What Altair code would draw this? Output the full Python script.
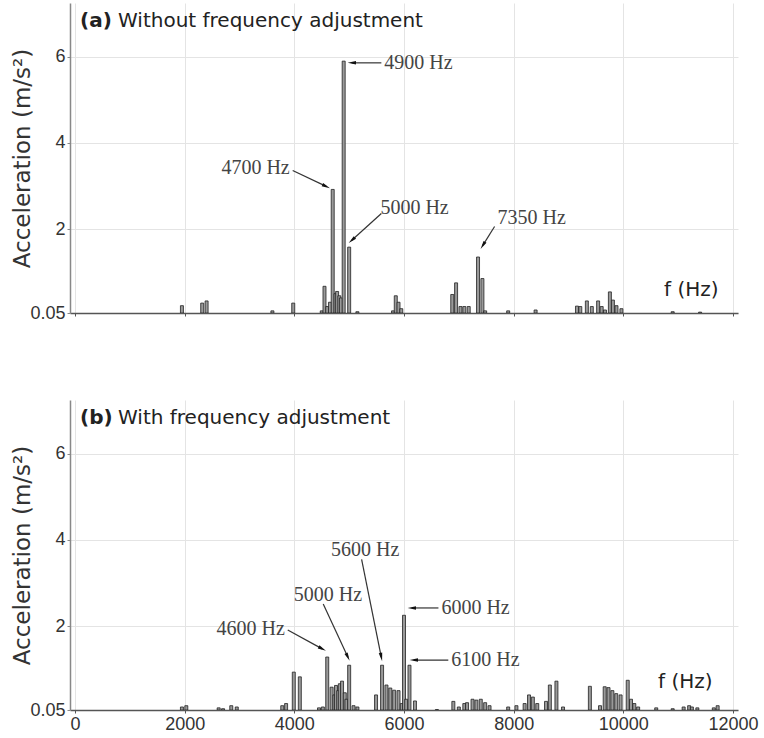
import math
import altair as alt
import pandas as pd

# ---------------------------------------------------------------------------
# Spectrum (a): without frequency adjustment  (frequency in Hz, amplitude in m/s^2)
freq_a = [1950, 2320, 2400, 3600, 3980, 4500, 4550, 4600, 4650, 4700, 4750, 4780,
          4820, 4850, 4900, 5000, 5150, 5800, 5850, 5900, 5950, 6880, 6950, 7030,
          7100, 7180, 7350, 7430, 7480, 7900, 8400, 9155, 9215, 9335, 9425, 9540,
          9605, 9665, 9755, 9810, 9875, 9965, 10900, 11400]
amp_a = [0.22, 0.28, 0.33, 0.10, 0.28, 0.10, 0.67, 0.20, 0.30, 2.92, 0.50, 0.55,
         0.45, 0.40, 5.90, 1.58, 0.08, 0.10, 0.45, 0.30, 0.15, 0.48, 0.75, 0.20,
         0.20, 0.20, 1.35, 0.85, 0.10, 0.10, 0.12, 0.21, 0.20, 0.33, 0.20, 0.33,
         0.20, 0.12, 0.54, 0.35, 0.22, 0.15, 0.08, 0.07]

# Spectrum (b): with frequency adjustment
freq_b = [1950, 2030, 2620, 2700, 2850, 2950, 3780, 3850, 3990, 4100, 4450, 4520,
          4600, 4680, 4730, 4760, 4800, 4830, 4870, 4920, 4950, 5000, 5080, 5150,
          5490, 5600, 5680, 5750, 5820, 5900, 5960, 6000, 6040, 6100, 6200, 6600,
          6900, 7000, 7100, 7150, 7250, 7320, 7400, 7480, 7560, 7900, 8050, 8200,
          8280, 8350, 8430, 8590, 8660, 8780, 8900, 9390, 9575, 9660, 9730, 9800,
          9870, 9950, 10080, 10140, 10200, 10270, 10600, 10900, 11100, 11200, 11250,
          11350, 11650, 11720]
amp_b = [0.12, 0.15, 0.10, 0.08, 0.15, 0.12, 0.15, 0.20, 0.93, 0.82, 0.10, 0.12,
         1.28, 0.58, 0.40, 0.62, 0.50, 0.66, 0.72, 0.45, 0.30, 1.09, 0.15, 0.12,
         0.40, 1.09, 0.63, 0.56, 0.51, 0.50, 0.20, 2.25, 0.30, 1.09, 0.26, 0.06,
         0.25, 0.12, 0.20, 0.22, 0.30, 0.28, 0.30, 0.22, 0.15, 0.12, 0.15, 0.20,
         0.40, 0.35, 0.20, 0.25, 0.63, 0.72, 0.12, 0.60, 0.15, 0.59, 0.57, 0.50,
         0.43, 0.40, 0.74, 0.30, 0.20, 0.12, 0.10, 0.08, 0.12, 0.15, 0.12,
         0.10, 0.10, 0.15]

# Peak call-outs: label, text anchor, alignment, arrow tail (x0, y0) and head (x1, y1)
ann_a_label = ["4900 Hz", "4700 Hz", "5000 Hz", "7350 Hz"]
ann_a_tx = [5622, 3934, 5551, 7688]
ann_a_ty = [5.86, 3.41, 2.48, 2.25]
ann_a_align = ["left", "right", "left", "left"]
ann_a_x0 = [5587, 3970, 5587, 7652]
ann_a_y0 = [5.86, 3.36, 2.36, 2.06]
ann_a_x1 = [5048, 4581, 5048, 7437]
ann_a_y1 = [5.86, 2.99, 1.74, 1.62]

ann_b_label = ["4600 Hz", "5000 Hz", "5600 Hz", "6000 Hz", "6100 Hz"]
ann_b_tx = [3844, 3970, 4652, 6664, 6844]
ann_b_ty = [1.93, 2.72, 3.76, 2.42, 1.21]
ann_b_align = ["right", "left", "left", "left", "left"]
ann_b_x0 = [3880, 4527, 5227, 6628, 6808]
ann_b_y0 = [1.91, 2.51, 3.55, 2.42, 1.21]
ann_b_x1 = [4509, 4976, 5586, 6143, 6179]
ann_b_y1 = [1.47, 1.28, 1.28, 2.42, 1.21]

x_ticks = [0, 2000, 4000, 6000, 8000, 10000, 12000]
y_ticks = [0.05, 2, 4, 6]
Y_MIN, Y_MAX = 0.05, 7.25
X_MAX = 12000

W, H = 668, 310
SANS = "DejaVu Sans"
NUM = "Liberation Sans"
SERIF = "Liberation Serif"
ARROW = "M0,-1L0.42,1L-0.42,1Z"


def callouts(label, tx, ty, align, x0, y0, x1, y1):
    px_hz = W / X_MAX
    px_unit = H / (Y_MAX - Y_MIN)
    ang = []
    for a, b, c, d in zip(x0, y0, x1, y1):
        dx = (c - a) * px_hz
        dy = -(d - b) * px_unit
        ang.append(math.degrees(math.atan2(dx, -dy)) % 360)
    return pd.DataFrame({"label": label, "tx": tx, "ty": ty, "align": align,
                         "x0": x0, "y0": y0, "x1": x1, "y1": y1, "ang": ang})


def panel(freq, amp, ann, tag, title, fhz_x, fhz_y, show_labels):
    spec = pd.DataFrame({"f": freq, "a": amp})
    xs = alt.Scale(domain=[0, X_MAX], nice=False, zero=False)
    ys = alt.Scale(domain=[Y_MIN, Y_MAX], nice=False, zero=False)

    x_axis = alt.Axis(values=x_ticks, labels=show_labels, title=None, grid=True,
                      gridColor="#e4e4e4", domainColor="#555", domainWidth=1.5,
                      tickColor="#555", tickSize=3, labelFont=NUM, labelFontSize=18,
                      labelColor="#333", labelPadding=2, format="d")
    y_axis = alt.Axis(values=y_ticks, title="Acceleration (m/s²)", grid=True,
                      gridColor="#e4e4e4", domainColor="#888", domainWidth=1.5,
                      tickColor="#888", tickSize=3, labelFont=NUM, labelFontSize=18,
                      labelColor="#333", labelPadding=2, titleFont=SANS,
                      titleFontSize=23, titleFontWeight="normal", titleColor="#333",
                      titlePadding=-5, labelExpr="datum.value == 0.05 ? '0.05' : datum.label")

    bars = alt.Chart(spec).mark_bar(size=3, fill="#9a9a9a", stroke="#222",
                                    strokeWidth=0.8, clip=True).encode(
        x=alt.X("f:Q", scale=xs, axis=x_axis),
        y=alt.Y("a:Q", scale=ys, axis=y_axis),
        y2=alt.datum(Y_MIN),
    )

    base = alt.Chart(ann)
    lines = base.mark_rule(color="#333", strokeWidth=1.2).encode(
        x="x0:Q", y="y0:Q", x2="x1:Q", y2="y1:Q")
    heads = base.mark_point(shape=ARROW, filled=True, size=70, color="#111",
                            opacity=1).encode(
        x="x1:Q", y="y1:Q", angle=alt.Angle("ang:Q", scale=None))
    txt_left = base.transform_filter("datum.align == 'left'").mark_text(
        font=SERIF, fontSize=20, color="#444", align="left", baseline="middle", dx=1
    ).encode(x="tx:Q", y="ty:Q", text="label:N")
    txt_right = base.transform_filter("datum.align == 'right'").mark_text(
        font=SERIF, fontSize=20, color="#444", align="right", baseline="middle", dx=-1
    ).encode(x="tx:Q", y="ty:Q", text="label:N")

    fhz = alt.Chart(pd.DataFrame({"x": [fhz_x], "y": [fhz_y], "t": ["f (Hz)"]})).mark_text(
        font=SANS, fontSize=20, color="#222", align="left", baseline="middle"
    ).encode(x="x:Q", y="y:Q", text="t:N")

    tag_mark = alt.Chart(pd.DataFrame({"t": [tag]})).mark_text(
        font=SANS, fontSize=20, fontWeight="bold", color="#222", align="left",
        baseline="middle").encode(x=alt.value(10), y=alt.value(18), text="t:N")
    title_mark = alt.Chart(pd.DataFrame({"t": [title]})).mark_text(
        font=SANS, fontSize=20, color="#222", align="left",
        baseline="middle").encode(x=alt.value(48), y=alt.value(18), text="t:N")

    return alt.layer(bars, lines, heads, txt_left, txt_right, fhz, tag_mark,
                     title_mark).properties(width=W, height=H)


ann_a = callouts(ann_a_label, ann_a_tx, ann_a_ty, ann_a_align,
                 ann_a_x0, ann_a_y0, ann_a_x1, ann_a_y1)
ann_b = callouts(ann_b_label, ann_b_tx, ann_b_ty, ann_b_align,
                 ann_b_x0, ann_b_y0, ann_b_x1, ann_b_y1)

top = panel(freq_a, amp_a, ann_a, "(a)", "Without frequency adjustment",
            10742, 0.58, False)
bottom = panel(freq_b, amp_b, ann_b, "(b)", "With frequency adjustment",
               10634, 0.70, True)

chart = alt.vconcat(top, bottom, spacing=78).properties(
    padding={"left": 11, "top": 3, "right": 0, "bottom": 0},
    background="white",
).configure_view(stroke=None).configure_axis(labelFlush=False)

chart.save("out.html", embed_options={"renderer": "svg", "actions": False})
